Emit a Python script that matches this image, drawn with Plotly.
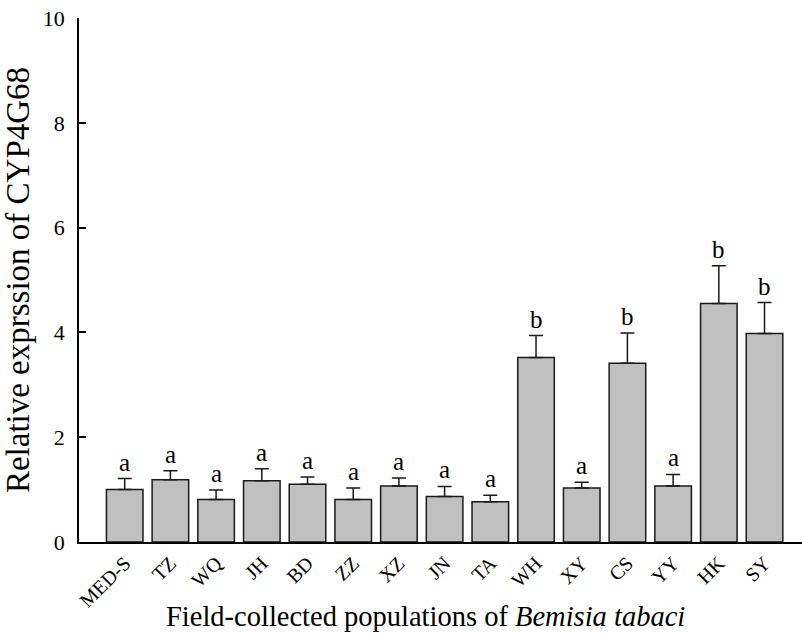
import plotly.graph_objects as go

populations = ["MED-S", "TZ", "WQ", "JH", "BD", "ZZ", "XZ", "JN", "TA",
               "WH", "XY", "CS", "YY", "HK", "SY"]
expression = [1.00, 1.19, 0.81, 1.17, 1.10, 0.81, 1.07, 0.87, 0.77,
              3.52, 1.03, 3.41, 1.07, 4.55, 3.98]
sem = [0.21, 0.17, 0.18, 0.23, 0.14, 0.22, 0.15, 0.19, 0.12,
       0.42, 0.11, 0.58, 0.22, 0.72, 0.59]
groups = ["a", "a", "a", "a", "a", "a", "a", "a", "a",
          "b", "a", "b", "a", "b", "b"]

serif = "Liberation Serif, Times New Roman, serif"

fig = go.Figure()
fig.add_trace(go.Bar(
    x=populations,
    y=expression,
    width=0.8,
    marker=dict(color="#c0c0c0", line=dict(color="#1a1a1a", width=1.5)),
    error_y=dict(type="data", array=sem, arrayminus=[0] * len(sem),
                 symmetric=False, color="#1a1a1a", thickness=1.5, width=7),
))

# significance letters above each error bar
for pop, val, err, g in zip(populations, expression, sem, groups):
    fig.add_annotation(x=pop, y=val + err, text=g, showarrow=False,
                       yanchor="bottom", yshift=1,
                       font=dict(family=serif, size=25, color="black"))

# x-axis title, placed as an annotation below the tick labels
fig.add_annotation(
    xref="paper", yref="paper", x=0.479, y=-0.143,
    xanchor="center", yanchor="middle", showarrow=False,
    text="Field-collected populations of <i>Bemisia tabaci</i>",
    font=dict(family=serif, size=28.5, color="black"),
)

fig.update_layout(
    width=802, height=635,
    margin=dict(l=79, r=0, t=18, b=93),
    paper_bgcolor="white", plot_bgcolor="white",
    showlegend=False,
    bargap=0.2,
    font=dict(family=serif, color="black"),
)
fig.update_xaxes(
    type="category",
    range=[-1.0, 14.82],
    showline=True, linecolor="black", linewidth=1.5,
    ticks="", tickangle=-45,
    tickfont=dict(family=serif, size=20, color="black"),
    showgrid=False, zeroline=False,
)
fig.update_yaxes(
    range=[0, 10],
    tickvals=[0, 2, 4, 6, 8, 10],
    showline=True, linecolor="black", linewidth=1.5,
    ticks="inside", ticklen=7, tickwidth=1.5, tickcolor="black",
    ticklabelstandoff=8,
    tickfont=dict(family=serif, size=22, color="black"),
    title=dict(text="Relative exprssion of CYP4G68",
               font=dict(family=serif, size=33, color="black"), standoff=12),
    showgrid=False, zeroline=False,
)

fig.write_html("out.html")
